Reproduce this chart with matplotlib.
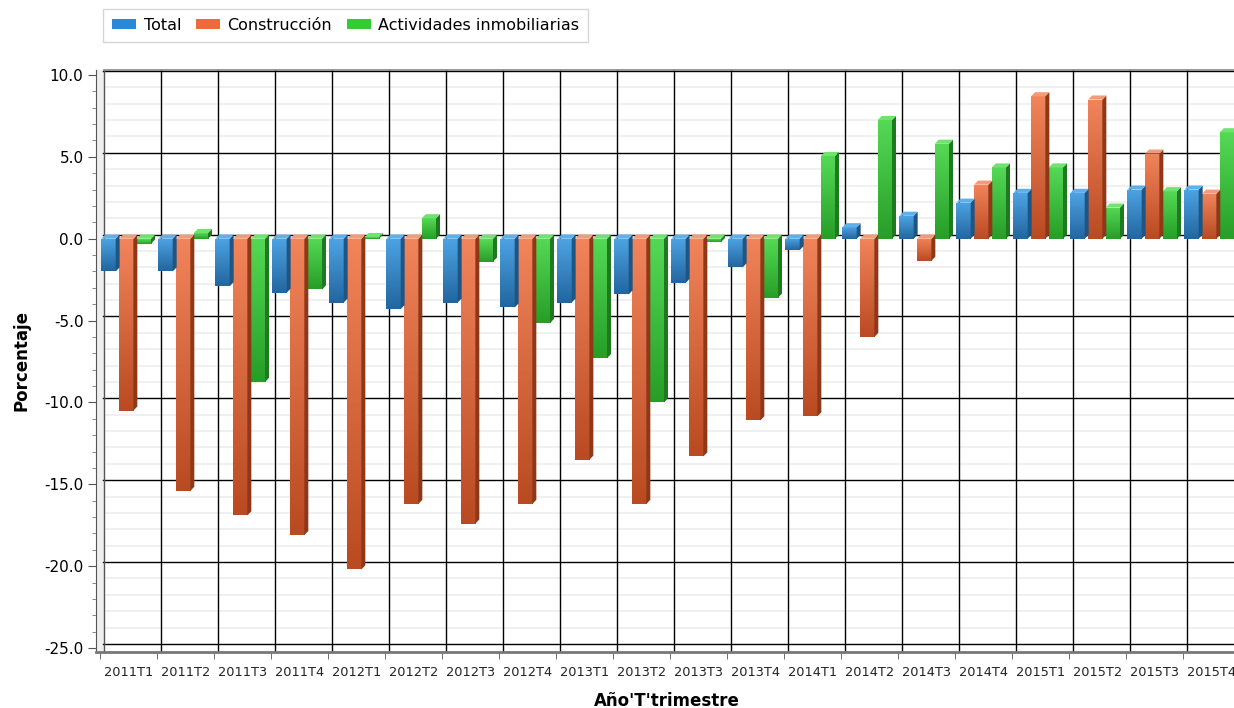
import numpy as np
import matplotlib
matplotlib.use("Agg")
import matplotlib.pyplot as plt
from matplotlib.patches import Polygon
from matplotlib.colors import LinearSegmentedColormap

categories = ["2011T1", "2011T2", "2011T3", "2011T4", "2012T1", "2012T2", "2012T3",
              "2012T4", "2013T1", "2013T2", "2013T3", "2013T4", "2014T1", "2014T2",
              "2014T3", "2014T4", "2015T1", "2015T2", "2015T3", "2015T4"]
total = [-2.0, -2.0, -2.9, -3.3, -3.9, -4.3, -3.9, -4.2, -3.9, -3.4,
         -2.7, -1.75, -0.7, 0.7, 1.4, 2.2, 2.8, 2.8, 3.0, 3.0]
construccion = [-10.5, -15.4, -16.9, -18.1, -20.2, -16.2, -17.4, -16.2, -13.5, -16.2,
                -13.3, -11.1, -10.85, -6.0, -1.35, 3.3, 8.7, 8.5, 5.2, 2.75]
actividades = [-0.3, 0.35, -8.75, -3.1, 0.1, 1.25, -1.4, -5.15, -7.3, -10.0,
               -0.2, -3.6, 5.05, 7.25, 5.8, 4.35, 4.35, 1.9, 2.9, 6.5]
series_names = ["Total", "Construcción", "Actividades inmobiliarias"]

# (legend, gradient top, gradient bottom, side, cap)
palette = [
    ("#2a88d8", "#4da3e3", "#2266a0", "#1d5585", "#5db0ea"),
    ("#ee6a3c", "#f2845c", "#b94a22", "#8e3818", "#f59a78"),
    ("#33cc33", "#55d955", "#279e27", "#1e7a1e", "#6ee36e"),
]

W, H = 1234, 708
fig = plt.figure(figsize=(W / 100, H / 100), dpi=100)
ax_top, ax_bot, ax_l, ax_r = 70, 652, 96, 1240
ax = fig.add_axes([ax_l / W, 1 - ax_bot / H, (ax_r - ax_l) / W, (ax_bot - ax_top) / H])
upp = 35 / 573.0
ylim = (-25 - 4 * upp, 10 + 5 * upp)
xlim = (-0.57, len(categories) - 0.5)

dx, dy = 0.07, 0.25          # 3D depth offset in data units
bw = 0.25
offsets = [-0.35, -0.04, 0.27]

# left wall strip
ax.add_patch(Polygon([(xlim[0], ylim[0]), (-0.5 + dx, ylim[0]), (-0.5 + dx, ylim[1]),
                      (xlim[0], ylim[1])], closed=True, fc="#efefef", ec="none", zorder=0))

# back-wall grid
for v in np.arange(-25, 11, 1):
    if v % 5:
        ax.axhline(v + dy, xmin=0.006, color="#f0f0f0", lw=1.4, zorder=0.5)
for v in np.arange(-25, 11, 5):
    ax.axhline(v + dy, xmin=0.006, color="black", lw=1.0, zorder=1)
for k in range(len(categories) + 1):
    ax.axvline(k - 0.5 + dx, color="black" if k else "#555555", lw=1.0, zorder=1)

x = np.arange(len(categories))
for s, vals in enumerate([total, construccion, actividades]):
    leg, ctop, cbot, cside, ccap = palette[s]
    cmap = LinearSegmentedColormap.from_list(f"g{s}", [ctop, cbot])
    bars = ax.bar(x + offsets[s], vals, width=bw, color=leg, zorder=3,
                  label=series_names[s], linewidth=0)
    for b, v in zip(bars, vals):
        x0, x1 = b.get_x(), b.get_x() + b.get_width()
        y0, y1 = min(0, v), max(0, v)
        grad = np.linspace(0, 1, 64).reshape(-1, 1)
        im = ax.imshow(grad, extent=[x0, x1, y0, y1], origin="upper",
                       cmap=cmap, aspect="auto", zorder=3.1)
        im.set_clip_path(b)
        ax.add_patch(Polygon([(x1, y0), (x1 + dx, y0 + dy), (x1 + dx, y1 + dy), (x1, y1)],
                             closed=True, fc=cside, ec="none", zorder=3.2))
        ax.add_patch(Polygon([(x0, y1), (x1, y1), (x1 + dx, y1 + dy), (x0 + dx, y1 + dy)],
                             closed=True, fc=ccap, ec="none", zorder=3.2))

ax.set_xlim(*xlim)
ax.set_ylim(*ylim)

# axes styling
for side in ["right", "top"]:
    ax.spines[side].set_visible(False)
ax.spines["left"].set_color("#555555")
ax.spines["bottom"].set_color("#777777")
ax.spines["bottom"].set_linewidth(2)
ax.plot([-0.5 + dx, xlim[1]], [ylim[1], ylim[1]], color="#888888", lw=1.2,
        clip_on=False, zorder=2)

ax.set_yticks(np.arange(-25, 11, 5))
ax.set_yticks(np.arange(-25, 11, 1), minor=True)
ax.set_yticklabels([f"{v:.1f}" for v in np.arange(-25, 11, 5)], fontsize=11)
ax.tick_params(axis="y", which="major", length=6, color="#555555", pad=3)
ax.tick_params(axis="y", which="minor", length=3, color="#777777")

ax.set_xticks(x)
ax.set_xticklabels(categories, fontsize=9.3, color="#222222")
ax.set_xticks(np.arange(len(categories) + 1) - 0.5, minor=True)
ax.tick_params(axis="x", which="major", length=0, pad=10)
ax.tick_params(axis="x", which="minor", length=5, color="#555555")

ax.set_ylabel("Porcentaje", fontsize=12, fontweight="bold", labelpad=10)
fig.text(667 / W, 1 - 701 / H, "Año'T'trimestre", fontsize=12, fontweight="bold",
         ha="center", va="center")

fig.legend(loc="upper left", bbox_to_anchor=(103 / W, 1 - 9 / H), ncol=3,
           fontsize=11.5, frameon=True, fancybox=False, edgecolor="#cccccc",
           handlelength=1.5, handleheight=0.6, columnspacing=0.9,
           handletextpad=0.5, borderpad=0.55, borderaxespad=0)

fig.savefig("out.png", dpi=100)
